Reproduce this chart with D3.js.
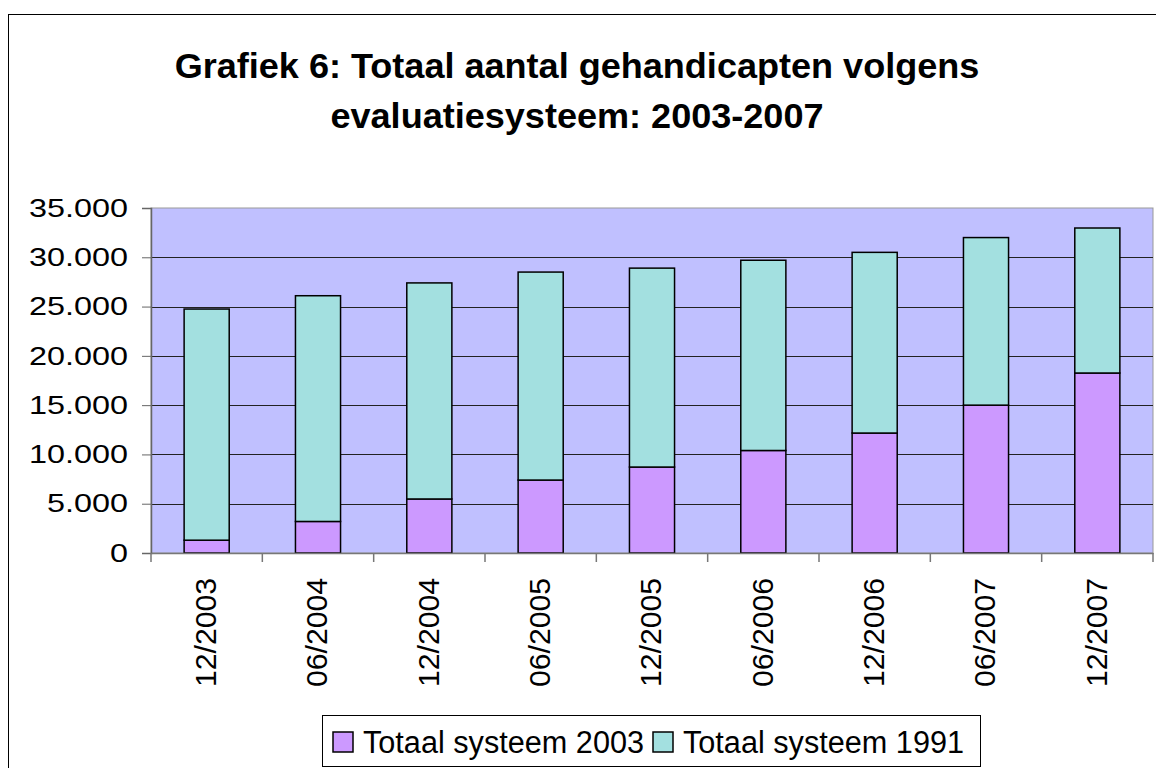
<!DOCTYPE html>
<html lang="nl">
<head>
<meta charset="UTF-8">
<title>Grafiek 6</title>
<script src="https://cdn.jsdelivr.net/npm/d3@7"></script>
<style>
  body { margin: 0; background: #fff; }
  svg { display: block; font-family: "Liberation Sans", Arial, sans-serif; }
</style>
</head>
<body>
<div id="chart"></div>
<script>
// data
const periods = ["12/2003", "06/2004", "12/2004", "06/2005", "12/2005", "06/2006", "12/2006", "06/2007", "12/2007"];
const systeem2003 = [1300, 3200, 5480, 7400, 8720, 10400, 12170, 15000, 18260];
const systeem1991 = [23450, 22900, 21920, 21100, 20180, 19300, 18330, 17000, 14710];
const seriesNames = ["Totaal systeem 2003", "Totaal systeem 1991"];
const yTicks = [0, 5000, 10000, 15000, 20000, 25000, 30000, 35000];

const width = 1156, height = 768;
const plot = { left: 151, right: 1153, top: 208, bottom: 553 };
const colors = ["#CC99FF", "#A3E0E0"];
const font = "Liberation Sans, Arial, sans-serif";

const nl = d3.formatLocale({ decimal: ",", thousands: ".", grouping: [3], currency: ["€", ""] });
const fmt = nl.format(",");

// the original picture is stretched sideways, so widen text to match
function stretch(sel, factor) {
    sel.each(function () {
        const w = this.getComputedTextLength();
        d3.select(this).attr("textLength", w * factor).attr("lengthAdjust", "spacingAndGlyphs");
    });
}

const svg = d3.select("#chart").append("svg")
    .attr("width", width)
    .attr("height", height);

// outer chart border
svg.append("rect")
    .attr("x", 8.5).attr("y", 14.5)
    .attr("width", width + 20).attr("height", height + 20)
    .attr("fill", "#fff").attr("stroke", "#000").attr("stroke-width", 1);

// title
const titleLines = ["Grafiek 6: Totaal aantal gehandicapten volgens", "evaluatiesysteem: 2003-2007"];
svg.append("g")
    .selectAll("text")
    .data(titleLines)
    .join("text")
    .attr("x", 577)
    .attr("y", (d, i) => 78 + i * 50)
    .attr("text-anchor", "middle")
    .attr("font-size", 35)
    .attr("font-weight", "bold")
    .text(d => d)
    .call(stretch, 1.03);

const x = d3.scaleBand()
    .domain(periods)
    .range([plot.left, plot.right])
    .paddingInner(0.595)
    .paddingOuter(0.2975);

const y = d3.scaleLinear()
    .domain([0, 35000])
    .range([plot.bottom, plot.top]);

// plot background
svg.append("rect")
    .attr("x", plot.left).attr("y", plot.top)
    .attr("width", plot.right - plot.left).attr("height", plot.bottom - plot.top)
    .attr("fill", "#C0C0FF")
    .attr("stroke", "#999").attr("stroke-width", 1);

// gridlines
svg.append("g")
    .selectAll("line")
    .data(yTicks.filter(d => d > 0 && d < 35000))
    .join("line")
    .attr("x1", plot.left).attr("x2", plot.right)
    .attr("y1", d => Math.round(y(d)) + 0.5).attr("y2", d => Math.round(y(d)) + 0.5)
    .attr("stroke", "#222").attr("stroke-width", 1);

// stacked bars
const rows = periods.map((p, i) => ({ period: p, s2003: systeem2003[i], s1991: systeem1991[i] }));
const stack = d3.stack().keys(["s2003", "s1991"])(rows);

svg.append("g")
    .selectAll("g")
    .data(stack)
    .join("g")
    .attr("fill", (d, i) => colors[i])
    .selectAll("rect")
    .data(d => d)
    .join("rect")
    .attr("x", d => x(d.data.period))
    .attr("y", d => y(d[1]))
    .attr("width", x.bandwidth())
    .attr("height", d => y(d[0]) - y(d[1]))
    .attr("stroke", "#000")
    .attr("stroke-width", 1.5);

// y axis
const yAxis = svg.append("g")
    .attr("transform", `translate(${plot.left},0)`)
    .call(d3.axisLeft(y).tickValues(yTicks).tickFormat(fmt).tickSize(9).tickPadding(14));
yAxis.select(".domain").attr("stroke", "#666").attr("stroke-width", 1.5);
yAxis.selectAll(".tick line").attr("stroke", "#666");
yAxis.selectAll("text")
    .attr("font-size", 25.5).attr("fill", "#000").attr("font-family", font)
    .call(stretch, 1.27);

// x axis
const xAxis = svg.append("g")
    .attr("transform", `translate(0,${plot.bottom})`)
    .call(d3.axisBottom(x).tickSize(0).tickFormat(d => d));
xAxis.select(".domain").attr("stroke", "#777").attr("stroke-width", 1.5);
xAxis.selectAll(".tick text")
    .attr("font-size", 29).attr("fill", "#000").attr("font-family", font)
    .attr("text-anchor", "end")
    .attr("transform", "rotate(-90)")
    .attr("x", -25).attr("y", -1).attr("dy", "0.36em")
    .attr("textLength", 109).attr("lengthAdjust", "spacingAndGlyphs");

// category separator ticks
const step = x.step();
svg.append("g")
    .selectAll("line")
    .data(d3.range(periods.length + 1))
    .join("line")
    .attr("x1", i => plot.left + i * step).attr("x2", i => plot.left + i * step)
    .attr("y1", plot.bottom).attr("y2", plot.bottom + 9)
    .attr("stroke", "#777").attr("stroke-width", 1.5);

// legend
const legend = svg.append("g");
legend.append("rect")
    .attr("x", 322.5).attr("y", 715.5)
    .attr("width", 658).attr("height", 51)
    .attr("fill", "#fff").attr("stroke", "#000").attr("stroke-width", 1);

const legendX = [333, 653];
const item = legend.selectAll(".item")
    .data(seriesNames)
    .join("g")
    .attr("class", "item")
    .attr("transform", (d, i) => `translate(${legendX[i]},732)`);
item.append("rect")
    .attr("width", 20).attr("height", 20)
    .attr("fill", (d, i) => colors[i])
    .attr("stroke", "#000").attr("stroke-width", 1.5);
item.append("text")
    .attr("x", 30).attr("y", 21)
    .attr("font-size", 31)
    .text(d => d)
    .attr("textLength", 281).attr("lengthAdjust", "spacingAndGlyphs");
</script>
</body>
</html>
